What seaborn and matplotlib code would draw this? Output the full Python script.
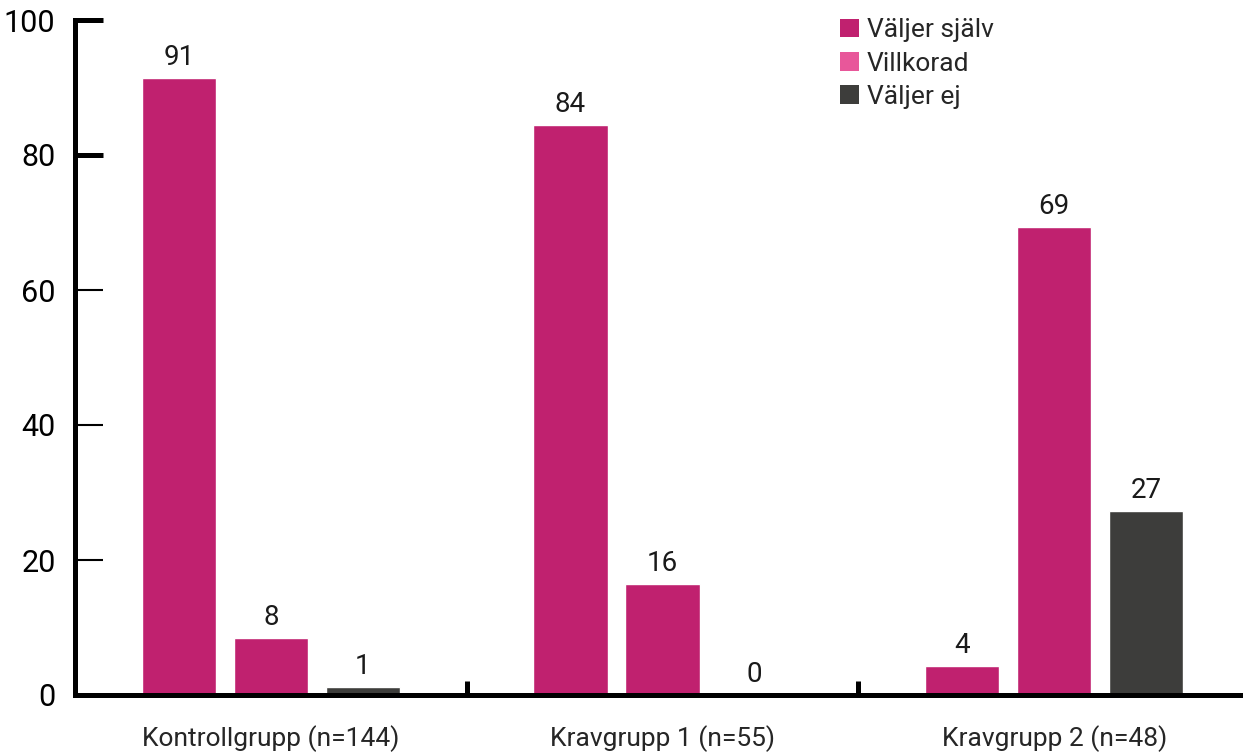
import matplotlib
matplotlib.use("Agg")
import matplotlib.pyplot as plt
from matplotlib.patches import Patch
import pandas as pd
import seaborn as sns

# grupper och serier
groups = ["Kontrollgrupp (n=144)", "Kravgrupp 1 (n=55)", "Kravgrupp 2 (n=48)"]
series = ["Väljer själv", "Villkorad", "Väljer ej"]

# andel (%) per serie, en siffra per grupp
valjer_sjalv = [91.4, 84.4, 4.3]
villkorad = [8.4, 16.4, 69.3]
valjer_ej = [1.2, 0.0, 27.3]

bar_colors = ["#C0216F", "#C0216F", "#3D3D3B"]
legend_colors = ["#C0216F", "#E8579A", "#3D3D3B"]

df = pd.DataFrame({
    "grupp": groups * 3,
    "serie": [s for s in series for _ in groups],
    "andel": valjer_sjalv + villkorad + valjer_ej,
})

sns.set_style("white")
plt.rcParams["font.family"] = ["Roboto", "DejaVu Sans"]

fig = plt.figure(figsize=(12.43, 7.56), dpi=100)
ax = fig.add_axes([75 / 1243, 61 / 756, 1175 / 1243, 675 / 756])

sns.barplot(
    data=df, x="grupp", y="andel", hue="serie",
    order=groups, hue_order=series,
    palette=dict(zip(series, bar_colors)),
    width=0.705, gap=0.19, saturation=1, legend=False, ax=ax,
)

for cont in ax.containers:
    ax.bar_label(cont, fmt="%.0f", padding=5, fontsize=20, color="#1a1a1a")

ax.set_ylim(0, 100)
ax.set_xlim(-0.5, 2.5)
ax.set_xlabel("")
ax.set_ylabel("")

for side in ["top", "right"]:
    ax.spines[side].set_visible(False)
for side in ["left", "bottom"]:
    ax.spines[side].set_linewidth(3.6)
    ax.spines[side].set_color("black")

ax.set_yticks([0, 20, 40, 60, 80, 100])
ax.tick_params(axis="y", left=True, direction="in", length=20, width=1.5,
               pad=14, labelsize=22, colors="black")
# 80 och 100 har tjockare streck i originalet
for tick, val in zip(ax.yaxis.get_major_ticks(), [0, 20, 40, 60, 80, 100]):
    if val >= 80:
        tick.tick1line.set_markeredgewidth(3.6)

ax.set_xticks(range(len(groups)))
ax.set_xticklabels(groups)
ax.tick_params(axis="x", which="major", length=0, pad=22, labelsize=19)
ax.set_xticks([0.5, 1.5], minor=True)
ax.tick_params(axis="x", which="minor", bottom=True, direction="in",
               length=10, width=3.6, color="black")

handles = [Patch(facecolor=c, edgecolor="none") for c in legend_colors]
fig.legend(
    handles, series, loc="upper left", bbox_to_anchor=(822 / 1243, 1.0),
    frameon=False, fontsize=19, handlelength=0.7, handleheight=0.7,
    handletextpad=0.3, labelspacing=0.35, borderpad=0.2,
)

fig.savefig("out.png", dpi=100)
